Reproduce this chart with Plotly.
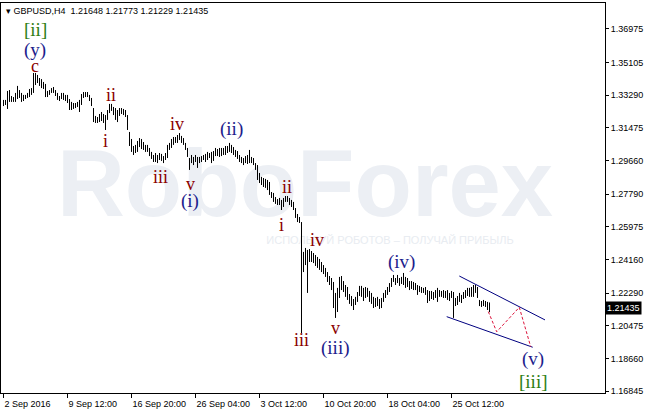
import plotly.graph_objects as go

# ---- data (GBPUSD H4) ----
highs = [1.3303,1.3303,1.3353,1.3358,1.3325,1.3319,1.3342,1.3381,1.3358,1.3342,
1.3331,1.3331,1.3342,1.3364,1.3369,1.3453,1.3453,1.3442,1.3425,1.3419,
1.3403,1.3392,1.3353,1.3358,1.3369,1.3375,1.3358,1.3342,1.3325,1.3342,
1.3342,1.3331,1.3331,1.3308,1.3292,1.3286,1.3286,1.3292,1.3303,1.3336,
1.3347,1.3347,1.3347,1.3331,1.3314,1.3258,1.3214,1.3208,1.3225,1.3236,
1.3225,1.3219,1.3247,1.3281,1.3281,1.3264,1.3258,1.3247,1.3258,1.3258,
1.3253,1.3247,1.3219,1.3125,1.3086,1.3047,1.3053,1.3075,1.3091,1.3086,
1.3069,1.3053,1.3053,1.3036,1.3014,1.2997,1.3008,1.2997,1.3008,1.3003,
1.2991,1.3008,1.3053,1.3064,1.3086,1.3097,1.3097,1.3108,1.3119,1.3103,
1.3091,1.3064,1.3036,1.2980,1.2997,1.2986,1.2997,1.2986,1.2986,1.2991,
1.2997,1.3003,1.3014,1.3008,1.3014,1.3019,1.3036,1.3030,1.3036,1.3036,
1.3036,1.3047,1.3047,1.3064,1.3053,1.3041,1.3025,1.3019,1.2997,1.2986,
1.2980,1.2991,1.2997,1.3025,1.2986,1.2980,1.2952,1.2941,1.2897,1.2875,
1.2869,1.2864,1.2858,1.2847,1.2791,1.2786,1.2763,1.2752,1.2758,1.2747,
1.2758,1.2769,1.2769,1.2758,1.2747,1.2736,1.2702,1.2669,1.2652,1.2624,
1.2458,1.2480,1.2469,1.2474,1.2463,1.2452,1.2441,1.2430,1.2419,1.2402,
1.2385,1.2369,1.2346,1.2324,1.2313,1.2291,1.2230,1.2258,1.2319,1.2324,
1.2296,1.2274,1.2263,1.2224,1.2213,1.2196,1.2208,1.2235,1.2269,1.2269,
1.2258,1.2263,1.2258,1.2241,1.2230,1.2208,1.2202,1.2208,1.2196,1.2202,
1.2230,1.2246,1.2263,1.2285,1.2313,1.2330,1.2313,1.2330,1.2313,1.2319,
1.2341,1.2319,1.2313,1.2296,1.2296,1.2291,1.2285,1.2274,1.2269,1.2263,
1.2258,1.2263,1.2246,1.2241,1.2241,1.2235,1.2246,1.2258,1.2246,1.2241,
1.2246,1.2241,1.2246,1.2230,1.2241,1.2235,1.2202,1.2213,1.2230,1.2219,
1.2235,1.2246,1.2258,1.2258,1.2263,1.2274,1.2274,1.2263,1.2191,1.2185,
1.2191,1.2185,1.2180,1.2177]

lows = [1.3269,1.3275,1.3253,1.3292,1.3292,1.3292,1.3292,1.3308,1.3314,1.3292,
1.3297,1.3308,1.3314,1.3319,1.3331,1.3342,1.3386,1.3397,1.3381,1.3369,
1.3364,1.3319,1.3319,1.3331,1.3342,1.3342,1.3325,1.3303,1.3297,1.3308,
1.3303,1.3297,1.3286,1.3247,1.3247,1.3253,1.3258,1.3264,1.3236,1.3275,
1.3314,1.3319,1.3319,1.3297,1.3269,1.3180,1.3175,1.3175,1.3180,1.3186,
1.3175,1.3136,1.3192,1.3230,1.3242,1.3219,1.3192,1.3180,1.3214,1.3225,
1.3219,1.3208,1.3136,1.3047,1.3014,1.2997,1.3008,1.3014,1.3041,1.3030,
1.3025,1.3014,1.3014,1.2991,1.2975,1.2958,1.2958,1.2952,1.2969,1.2964,
1.2952,1.2969,1.2980,1.3025,1.3036,1.3053,1.3064,1.3064,1.3080,1.3064,
1.3053,1.3025,1.2986,1.2914,1.2952,1.2941,1.2958,1.2925,1.2952,1.2958,
1.2969,1.2958,1.2969,1.2980,1.2952,1.2964,1.2991,1.2991,1.2986,1.2991,
1.2997,1.2997,1.3008,1.3014,1.3008,1.2997,1.2986,1.2975,1.2958,1.2952,
1.2941,1.2952,1.2947,1.2952,1.2952,1.2941,1.2914,1.2858,1.2841,1.2830,
1.2819,1.2814,1.2802,1.2775,1.2758,1.2736,1.2725,1.2719,1.2719,1.2691,
1.2708,1.2736,1.2736,1.2719,1.2708,1.2691,1.2647,1.2624,1.2619,1.2007,
1.2346,1.2385,1.2230,1.2402,1.2402,1.2396,1.2380,1.2369,1.2358,1.2346,
1.2335,1.2319,1.2291,1.2274,1.2246,1.2146,1.2091,1.2124,1.2202,1.2246,
1.2235,1.2208,1.2191,1.2169,1.2157,1.2135,1.2163,1.2180,1.2213,1.2208,
1.2185,1.2202,1.2208,1.2180,1.2169,1.2146,1.2152,1.2157,1.2141,1.2146,
1.2180,1.2202,1.2219,1.2235,1.2263,1.2291,1.2274,1.2285,1.2269,1.2280,
1.2274,1.2258,1.2263,1.2246,1.2252,1.2246,1.2246,1.2219,1.2235,1.2230,
1.2230,1.2219,1.2174,1.2185,1.2196,1.2191,1.2202,1.2180,1.2208,1.2208,
1.2202,1.2202,1.2191,1.2185,1.2202,1.2091,1.2157,1.2163,1.2180,1.2174,
1.2196,1.2202,1.2213,1.2208,1.2208,1.2208,1.2230,1.2202,1.2157,1.2152,
1.2157,1.2152,1.2135,1.2123]

x_tick_pos = [0, 32, 64, 96, 128, 160, 192, 224]
x_tick_labels = ["2 Sep 2016", "9 Sep 12:00", "16 Sep 20:00", "26 Sep 04:00",
                 "3 Oct 12:00", "10 Oct 20:00", "18 Oct 04:00", "25 Oct 12:00"]
y_tick_vals = [1.16845, 1.18660, 1.20475, 1.22290, 1.24160, 1.25975,
               1.27790, 1.29660, 1.31475, 1.33290, 1.35105, 1.36975]
y_tick_text = ["%.5f" % v for v in y_tick_vals]
last_price = 1.21435
header = "GBPUSD,H4  1.21648 1.21773 1.21229 1.21435"

# wave labels
wave_text = ["[ii]", "(y)", "c", "ii", "i", "iv", "iii", "v", "(i)", "(ii)",
             "ii", "i", "iv", "iii", "v", "(iii)", "(iv)", "(v)", "[iii]"]
wave_x = [15.75, 15.75, 15.75, 53.75, 50.75, 86.75, 78.25, 93.25, 93.25, 113.75,
          141.75, 138.75, 156.75, 148.75, 165.75, 165.75, 198.75, 264.75, 264.75]
wave_y = [1.3692, 1.3581, 1.3492, 1.3331, 1.3075, 1.3169, 1.2875, 1.2836, 1.2741, 1.3141,
          1.2819, 1.2608, 1.2524, 1.1968, 1.2036, 1.1924, 1.2402, 1.1863, 1.1740]
wave_kind = ["g", "b", "r", "r", "r", "r", "r", "r", "b", "b",
             "r", "r", "r", "r", "r", "b", "b", "b", "g"]

# channel and projected path
chan_up_x = [227.9, 270.75]
chan_up_y = [1.2324, 1.2080]
chan_lo_x = [221.6, 264.6]
chan_lo_y = [1.2098, 1.1928]
proj_x = [242.4, 246.6, 257.9, 263.6]
proj_y = [1.2126, 1.2014, 1.2150, 1.1931]

# ---- figure ----
bx, by = [], []
for i, (h, l) in enumerate(zip(highs, lows)):
    bx += [i, i, None]
    by += [l, h, None]

fig = go.Figure()
# watermark (below bars)
fig.add_trace(go.Scatter(x=[150.75], y=[1.2791], mode="text", text=["<b>RoboForex</b>"],
                         textfont=dict(family="Liberation Sans", size=94, color="#eceff4"),
                         hoverinfo="skip", showlegend=False))
fig.add_trace(go.Scatter(x=[193.25], y=[1.2519], mode="text",
                         text=["ИСПОЛЬЗУЙ РОБОТОВ – ПОЛУЧАЙ ПРИБЫЛЬ"],
                         textfont=dict(family="Liberation Sans", size=11, color="#e8ecf1"),
                         hoverinfo="skip", showlegend=False))
fig.add_trace(go.Scatter(x=bx, y=by, mode="lines", line=dict(color="black", width=1),
                         hoverinfo="skip", showlegend=False))
fig.add_trace(go.Scatter(x=chan_up_x, y=chan_up_y, mode="lines", line=dict(color="#000080", width=1),
                         showlegend=False))
fig.add_trace(go.Scatter(x=chan_lo_x, y=chan_lo_y, mode="lines", line=dict(color="#000080", width=1),
                         showlegend=False))
fig.add_trace(go.Scatter(x=proj_x, y=proj_y, mode="lines",
                         line=dict(color="#dc143c", width=1, dash="3px,2px"), showlegend=False))

colors = {"r": "#8b0000", "b": "#1c1c8c", "g": "#2e7d12"}
sizes = {"r": 18, "b": 19, "g": 19}
for t, x, y, k in zip(wave_text, wave_x, wave_y, wave_kind):
    fig.add_annotation(x=x, y=y, text=t, showarrow=False, xanchor="center", yanchor="middle",
                       font=dict(family="Liberation Serif", size=sizes[k], color=colors[k]))

fig.add_annotation(xref="paper", yref="paper", x=0, y=1, xanchor="left", yanchor="top",
                   xshift=3, yshift=-1, showarrow=False, text="▾ " + header,
                   font=dict(family="Liberation Sans", size=9, color="black"))
fig.add_annotation(xref="paper", x=1, y=last_price, xanchor="left", yanchor="middle", xshift=0,
                   showarrow=False, text="%.5f" % last_price, bgcolor="black", borderpad=1,
                   font=dict(family="Liberation Sans", size=9, color="white"))

fig.update_layout(
    width=646, height=414,
    margin=dict(l=1, r=41, t=3, b=21),
    paper_bgcolor="white", plot_bgcolor="white",
    xaxis=dict(range=[-1.25, 300.75], showgrid=False, zeroline=False,
               showline=True, linecolor="black", linewidth=1, mirror=True,
               tickvals=x_tick_pos, ticktext=x_tick_labels, ticks="outside", ticklen=4,
               tickcolor="black", ticklabelposition="outside right", ticklabelstandoff=2,
               tickfont=dict(family="Liberation Sans", size=9, color="black")),
    yaxis=dict(range=[1.16736, 1.3842], side="right", showgrid=False, zeroline=False,
               showline=True, linecolor="black", linewidth=1, mirror=True,
               tickvals=y_tick_vals, ticktext=y_tick_text, ticks="outside", ticklen=3,
               tickcolor="black",
               tickfont=dict(family="Liberation Sans", size=9, color="black")),
)

fig.write_html("out.html", config={"displayModeBar": False},
               post_script="document.body.style.margin='0';")
